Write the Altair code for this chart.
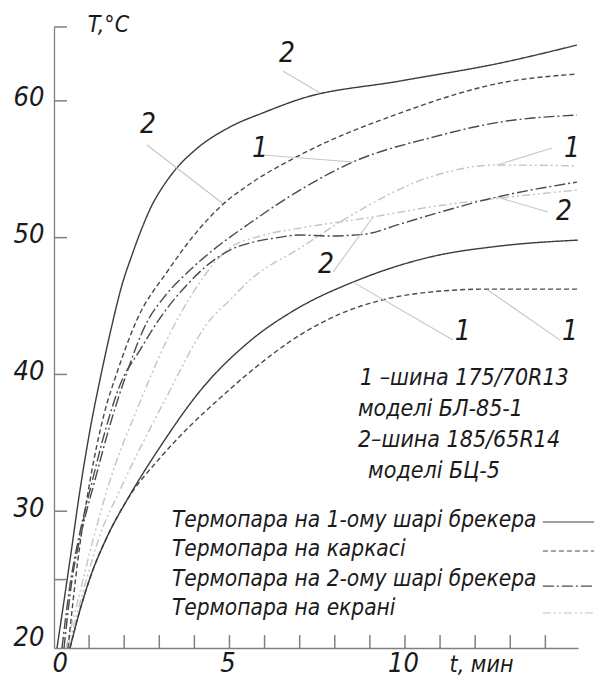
import altair as alt
import pandas as pd

FONT = "DejaVu Sans Condensed"

# ---------------- data (t in min, T in °C) ----------------
# tyre 2 (185/65R14), 1st breaker layer - solid
t_2_b1 = [0.085, 0.456, 0.741, 1.026, 1.368, 1.652, 1.937, 2.222, 2.507, 2.792, 3.077, 3.447, 4.017, 5.014, 6.011, 7.009, 9.858, 12.707, 14.90]
T_2_b1 = [20.0, 26.43, 31.55, 35.94, 40.32, 43.61, 46.54, 48.73, 50.70, 52.38, 53.63, 54.94, 56.40, 58.09, 59.18, 60.13, 61.45, 62.76, 64.08]
# tyre 2, carcass - dashed
t_2_c = [0.40, 0.68, 1.03, 1.42, 1.82, 2.36, 3.22, 4.16, 4.79, 5.58, 7.01, 9.86, 12.71, 14.90]
T_2_c = [20.0, 26.43, 32.28, 37.03, 40.32, 43.98, 47.49, 50.70, 52.38, 53.92, 56.04, 59.11, 61.30, 61.96]
# tyre 1 (175/70R13), 2nd breaker layer - dash-dot
t_1_b2 = [0.285, 0.513, 0.798, 1.168, 1.595, 2.023, 2.650, 3.162, 3.875, 4.530, 5.584, 7.009, 8.519, 10.798, 12.707, 14.90]
T_1_b2 = [20.0, 24.97, 28.63, 32.28, 36.30, 39.74, 43.83, 45.73, 47.63, 49.09, 51.07, 53.48, 55.53, 57.35, 58.45, 58.96]
# tyre 2, 2nd breaker layer - dash-dot
t_2_b2 = [0.228, 0.456, 0.741, 1.083, 1.481, 1.880, 2.450, 3.020, 3.732, 4.444, 5.014, 5.584, 6.296, 7.009, 7.863, 8.860, 9.858, 10.712, 12.621, 14.90]
T_2_b2 = [20.0, 24.61, 28.48, 32.13, 36.08, 39.23, 41.78, 44.12, 46.39, 48.14, 49.09, 49.61, 49.97, 50.19, 50.12, 50.26, 50.99, 51.65, 52.97, 54.06]
# tyre 1, screen - light dash-dot-dot
t_1_s = [0.399, 0.883, 1.311, 1.880, 3.162, 4.444, 5.014, 5.584, 7.009, 8.433, 10.712, 12.621, 14.90]
T_1_s = [20.0, 24.61, 28.26, 31.55, 38.13, 43.98, 45.44, 46.90, 49.24, 51.58, 54.43, 55.31, 55.25]
# tyre 2, screen - light dash-dot-dot
t_2_s = [0.342, 0.741, 1.111, 1.510, 2.450, 3.504, 4.160, 4.587, 5.014, 5.869, 7.009, 9.088, 10.712, 12.707, 14.90]
T_2_s = [20.0, 24.09, 27.89, 31.55, 37.98, 43.98, 46.75, 48.22, 49.24, 50.12, 50.70, 51.51, 52.24, 52.89, 53.48]
# tyre 1, 1st breaker layer - solid
t_1_b1 = [0.456, 0.741, 1.026, 1.538, 2.080, 3.020, 4.160, 5.584, 7.009, 8.519, 10.712, 12.707, 14.93]
T_1_b1 = [20.0, 22.78, 25.12, 28.26, 30.82, 34.69, 38.79, 42.44, 44.93, 46.75, 48.58, 49.39, 49.82]
# tyre 1, carcass - dashed
t_1_c = [0.456, 0.741, 1.026, 1.538, 2.080, 3.020, 3.875, 4.729, 5.584, 7.009, 8.148, 9.345, 10.712, 12.365, 14.93]
T_1_c = [20.0, 22.78, 25.12, 28.26, 30.82, 33.89, 36.23, 38.27, 40.18, 42.88, 44.42, 45.44, 46.02, 46.24, 46.24]

STYLES = ["b1", "carcass", "b2", "screen"]
SERIES = [
    ("1_s", "screen", t_1_s, T_1_s),
    ("2_s", "screen", t_2_s, T_2_s),
    ("2_b1", "b1", t_2_b1, T_2_b1),
    ("2_c", "carcass", t_2_c, T_2_c),
    ("1_b2", "b2", t_1_b2, T_1_b2),
    ("2_b2", "b2", t_2_b2, T_2_b2),
    ("1_c", "carcass", t_1_c, T_1_c),
    ("1_b1", "b1", t_1_b1, T_1_b1),
]

# curve number labels and their leader lines
lab_text = ["2", "2", "1", "1", "2", "2", "1", "1"]
lab_t = [6.64, 2.68, 5.87, 14.76, 14.53, 7.75, 11.65, 14.70]
lab_T = [62.84, 57.65, 55.89, 55.89, 51.29, 47.41, 42.51, 42.51]
lead_t1 = [6.52, 2.65, 5.95, 14.19, 14.07, 7.95, 11.37, 14.42]
lead_T1 = [62.18, 56.77, 56.04, 56.55, 51.87, 47.49, 42.51, 42.51]
lead_t2 = [7.58, 4.79, 8.52, 12.62, 12.62, 9.09, 8.52, 12.36]
lead_T2 = [60.57, 52.53, 55.53, 55.31, 52.97, 51.51, 46.75, 46.17]

# tyre description block
note_text = ["1 –шина 175/70R13", "моделі БЛ-85-1", "2–шина 185/65R14", "моделі БЦ-5"]
note_t = [8.72, 8.66, 8.66, 8.95]
note_T = [39.22, 36.96, 34.69, 32.43]

# legend
leg_text = ["Термопара на 1-ому шарі брекера", "Термопара на каркасі",
            "Термопара на 2-ому шарі брекера", "Термопара на екрані"]
leg_style = STYLES
leg_t = [3.36, 3.36, 3.36, 3.36]
leg_T = [28.84, 26.73, 24.53, 22.41]
leg_line_T = [29.21, 27.09, 24.53, 22.56]
leg_line_t1 = [13.93] * 4
leg_line_t2 = [15.6] * 4

# axis ticks (drawn inwards) and labels
x_tick_values = list(range(1, 15))
x_label_values = [0, 5, 10]
y_tick_values = [25, 30, 40, 50, 60, 65.4]
y_label_values = [20, 30, 40, 50, 60]
X_MIN, X_MAX = 0, 14.93
Y_MIN, Y_MAX = 20, 65.4
X_TICK_LEN = 0.95   # tick length on the t axis, in °C
Y_TICK_LEN = 0.37   # tick length on the T axis, in min

# ---------------- frames ----------------
rows = []
for name, style, ts, Ts in SERIES:
    for a, b in zip(ts, Ts):
        rows.append({"t": a, "T": b, "series": name, "style": style})
df = pd.DataFrame(rows)

labels_df = pd.DataFrame({"t": lab_t, "T": lab_T, "text": lab_text})
leaders_df = pd.DataFrame({"t": lead_t1, "T": lead_T1, "t2": lead_t2, "T2": lead_T2})
notes_df = pd.DataFrame({"t": note_t, "T": note_T, "text": note_text})
leg_df = pd.DataFrame({"t": leg_t, "T": leg_T, "text": leg_text})
leg_line_df = pd.DataFrame({"t": leg_line_t1, "t2": leg_line_t2, "T": leg_line_T, "style": leg_style})
xt_df = pd.DataFrame({"t": x_tick_values, "T": [Y_MIN] * len(x_tick_values),
                      "T2": [Y_MIN + X_TICK_LEN] * len(x_tick_values)})
yt_df = pd.DataFrame({"T": y_tick_values, "t": [X_MIN] * len(y_tick_values),
                      "t2": [X_MIN + Y_TICK_LEN] * len(y_tick_values)})

W, H = 524, 621
xs = alt.Scale(domain=[X_MIN, X_MAX], nice=False, zero=False)
ys = alt.Scale(domain=[Y_MIN, Y_MAX], nice=False, zero=False)

AX = "#808080"
TXT = "#1a1a1a"
dash_scale = alt.Scale(domain=STYLES, range=[[1, 0], [5, 3], [11, 3, 2, 3], [8, 3, 2, 3, 2, 3]])
color_scale = alt.Scale(domain=STYLES, range=["#3c3c3c", "#4a4a4a", "#4a4a4a", "#c4c4c4"])

x_axis = alt.Axis(values=x_label_values, ticks=False, tickSize=0, grid=False, labelOverlap=False,
                  domainColor=AX, domainWidth=1.3,
                  labelFont=FONT, labelFontSize=27, labelFontStyle="italic", labelColor=TXT,
                  labelBaseline="alphabetic", labelPadding=23, labelOffset=-2,
                  title="t, мин", titleFont=FONT, titleFontSize=23, titleFontStyle="italic",
                  titleFontWeight="normal", titleColor=TXT, titleX=427, titleY=23,
                  titleAlign="center", titleBaseline="alphabetic")
y_axis = alt.Axis(values=y_label_values, ticks=False, tickSize=0, grid=False, labelOverlap=False,
                  domainColor=AX, domainWidth=1.3,
                  labelFont=FONT, labelFontSize=27, labelFontStyle="italic", labelColor=TXT,
                  labelPadding=10, labelBaseline="middle",
                  labelOffset={"condition": {"test": "datum.value == 20", "value": -11}, "value": -3},
                  title="T,°C", titleFont=FONT, titleFontSize=23, titleFontStyle="italic",
                  titleFontWeight="normal", titleColor=TXT, titleAngle=0, titleX=54, titleY=4,
                  titleAlign="center", titleBaseline="alphabetic")


def X(field="t"):
    return alt.X(f"{field}:Q", scale=xs, axis=x_axis)


def Y(field="T"):
    return alt.Y(f"{field}:Q", scale=ys, axis=y_axis)


lines = alt.Chart(df).mark_line(interpolate="monotone", strokeWidth=1.4).encode(
    x=X(), y=Y(),
    detail="series:N",
    color=alt.Color("style:N", scale=color_scale, legend=None),
    strokeDash=alt.StrokeDash("style:N", scale=dash_scale, legend=None),
)

xticks = alt.Chart(xt_df).mark_rule(color=AX, strokeWidth=1.5).encode(
    x=X(), y=Y(), y2="T2:Q")
yticks = alt.Chart(yt_df).mark_rule(color=AX, strokeWidth=1.5).encode(
    x=X(), x2="t2:Q", y=Y())

leaders = alt.Chart(leaders_df).mark_rule(color="#c6c6c6", strokeWidth=1.1).encode(
    x=X(), y=Y(), x2="t2:Q", y2="T2:Q")

curve_labels = alt.Chart(labels_df).mark_text(
    font=FONT, fontSize=28, fontStyle="italic", color=TXT, align="center", baseline="alphabetic"
).encode(x=X(), y=Y(), text="text:N")

notes = alt.Chart(notes_df).mark_text(
    font=FONT, fontSize=23, fontStyle="italic", color=TXT, align="left", baseline="alphabetic"
).encode(x=X(), y=Y(), text="text:N")

legend_text = alt.Chart(leg_df).mark_text(
    font=FONT, fontSize=22.5, fontStyle="italic", color=TXT, align="left", baseline="alphabetic"
).encode(x=X(), y=Y(), text="text:N")

legend_lines = alt.Chart(leg_line_df).mark_rule(strokeWidth=1.2).encode(
    x=X(), x2="t2:Q", y=Y(),
    color=alt.Color("style:N", scale=color_scale, legend=None),
    strokeDash=alt.StrokeDash("style:N", scale=dash_scale, legend=None),
)

chart = alt.layer(
    lines, leaders, curve_labels, notes, legend_text, legend_lines, xticks, yticks
).properties(
    width=W, height=H,
    padding={"left": 46, "top": 19, "right": 16, "bottom": 30},
    autosize=alt.AutoSizeParams(type="none"),
    background="white",
).configure_view(stroke=None)

chart.save("out.html", embed_options={"renderer": "svg", "actions": False})
